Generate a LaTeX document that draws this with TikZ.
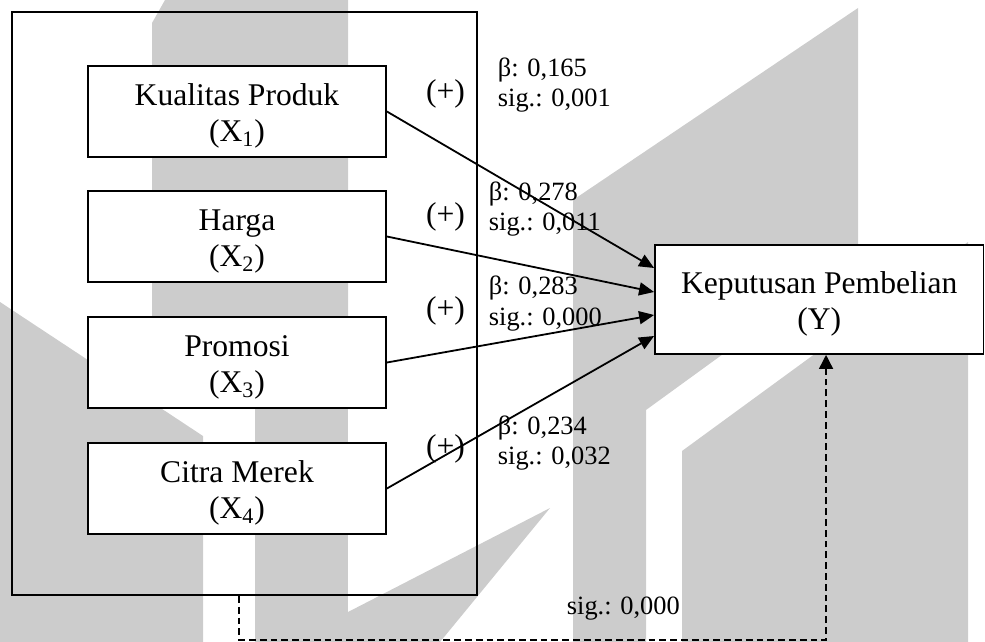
\documentclass[tikz,border=0pt]{standalone}
\usepackage{fontspec}
\setmainfont{Liberation Serif}
\usetikzlibrary{arrows.meta,calc}
\begin{document}
\begin{tikzpicture}[x=0.5pt,y=-0.5pt,
  wm/.style={fill=black!20,draw=none},
  frame/.style={draw,line width=0.9pt,inner sep=0pt},
  varbox/.style={draw,line width=0.9pt,fill=white,inner sep=0pt,
    minimum width=149pt,minimum height=45.5pt},
  boxtext/.style={inner sep=0pt,anchor=base,align=center,
    font=\fontsize{15.8}{18}\selectfont},
  sign/.style={inner sep=0pt,anchor=base,font=\fontsize{15.8}{18}\selectfont},
  stat/.style={inner sep=0pt,anchor=base west,align=left,
    font=\fontsize{13.2}{15.2}\selectfont},
  arr/.style={line width=0.9pt,-{Triangle[length=7.5pt,width=6.5pt]}},
  dashline/.style={line width=0.75pt,dash pattern=on 3.4pt off 2pt,
    -{Triangle[length=7pt,width=7pt]}}
]
\useasboundingbox (0,0) rectangle (985,642);

% background emblem
\fill[wm] (152,23) -- (165,0) -- (348,0) -- (348,400) -- (152,335) -- cycle;
\fill[wm] (255,300) rectangle (348,642);
\fill[wm] (0,302) -- (203,436) -- (203,642) -- (0,642) -- cycle;
\fill[wm] (348,612) -- (550,508) -- (440,642) -- (348,642) -- cycle;
\fill[wm] (573,200) -- (858,8) -- (858,256) -- (646,410) -- (646,642) -- (573,642) -- cycle;
\fill[wm] (682,451) -- (968,242) -- (968,642) -- (682,642) -- cycle;

% independent variables
\node[frame,minimum width=232.5pt,minimum height=291.7pt] (outer) at (244.5,303.4) {};
\node[varbox] (x1) at (237,111.5) {};
\node[varbox] (x2) at (237,236.5) {};
\node[varbox] (x3) at (237,362.5) {};
\node[varbox] (x4) at (237,488.5) {};
\node[boxtext] (t1) at ($(x1.center)+(0,30)$) {Kualitas Produk\\(X\textsubscript{1})};
\node[boxtext] (t2) at ($(x2.center)+(0,30)$) {Harga\\(X\textsubscript{2})};
\node[boxtext] (t3) at ($(x3.center)+(0,30)$) {Promosi\\(X\textsubscript{3})};
\node[boxtext] (t4) at ($(x4.center)+(0,30)$) {Citra Merek\\(X\textsubscript{4})};

% dependent variable
\node[varbox,minimum width=164.25pt,minimum height=54.5pt] (y) at (819.25,299.5) {};
\node[boxtext] (ty) at ($(y.center)+(0,29.5)$) {Keputusan Pembelian\\(Y)};

% partial effects
\draw[arr] (x1.east) -- ($(y.west)+(0,-31.5)$);
\draw[arr] (x2.east) -- ($(y.west)+(0,-7.5)$);
\draw[arr] (x3.east) -- ($(y.west)+(0,15.5)$);
\draw[arr] (x4.east) -- ($(y.west)+(0,36.5)$);

% simultaneous effect
\coordinate (low) at (239,640);
\draw[dashline] (low |- outer.south) -- (low) -| ([xshift=3.4pt]y.south);

% signs
\node[sign] (s1) at (445.5,102) {(+)};
\node[sign] (s2) at (445.5,224) {(+)};
\node[sign] (s3) at (445.5,318) {(+)};
\node[sign] (s4) at (445.5,456) {(+)};

% coefficients
\node[stat] (b1) at (497.5,107) {β: 0,165\\sig.: 0,001};
\node[stat] (b2) at (488.5,230.5) {β: 0,278\\sig.: 0,011};
\node[stat] (b3) at (488.5,325) {β: 0,283\\sig.: 0,000};
\node[stat] (b4) at (497.5,464.5) {β: 0,234\\sig.: 0,032};
\node[stat] (bf) at (566.5,614) {sig.: 0,000};
\end{tikzpicture}
\end{document}
